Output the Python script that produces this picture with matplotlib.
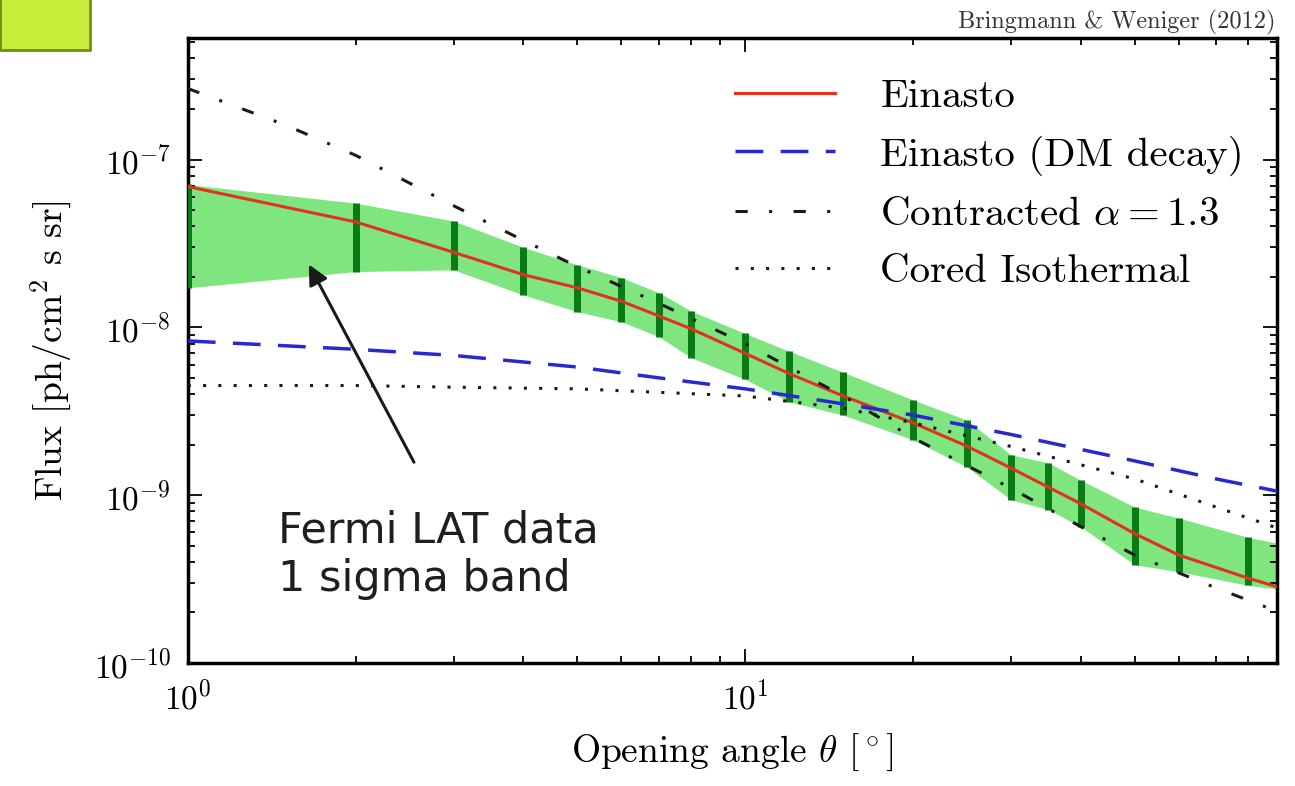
import matplotlib
matplotlib.use("Agg")
import matplotlib.pyplot as plt
from matplotlib.patches import Rectangle

plt.rcParams['font.family'] = 'cmr10'
plt.rcParams['mathtext.fontset'] = 'cm'
plt.rcParams['axes.formatter.use_mathtext'] = True

# Fermi LAT data, 1 sigma
data_x = [1, 2, 3, 4, 5, 6, 7, 8, 10, 12, 15, 20, 25, 30, 35, 40, 50, 60, 80]
data_hi = [7.1e-8, 5.5e-8, 4.3e-8, 3.0e-8, 2.36e-8, 1.98e-8, 1.61e-8, 1.25e-8, 9.2e-9,
           7.2e-9, 5.4e-9, 3.7e-9, 2.8e-9, 1.74e-9, 1.56e-9, 1.23e-9, 8.5e-10, 7.3e-10, 5.6e-10]
data_lo = [1.72e-8, 2.15e-8, 2.2e-8, 1.56e-8, 1.24e-8, 1.08e-8, 8.8e-9, 6.6e-9, 4.9e-9,
           3.6e-9, 3.0e-9, 2.14e-9, 1.47e-9, 9.4e-10, 8.2e-10, 6.5e-10, 3.85e-10, 3.5e-10, 2.9e-10]

# band continues to the right edge
band_x = data_x + [95]
band_hi = data_hi + [5.0e-10]
band_lo = data_lo + [2.7e-10]

# model curves
ein_x = [1, 2, 3, 4, 5, 6, 7, 8, 10, 12, 15, 20, 25, 30, 40, 50, 60, 80, 95]
ein_y = [6.9e-8, 4.25e-8, 2.8e-8, 2.06e-8, 1.72e-8, 1.43e-8, 1.17e-8, 9.8e-9, 7.0e-9,
         5.3e-9, 3.9e-9, 2.7e-9, 1.96e-9, 1.45e-9, 8.9e-10, 5.9e-10, 4.4e-10, 3.2e-10, 2.7e-10]

decay_x = [1, 2, 3, 5, 7, 10, 15, 20, 30, 50, 70, 95]
decay_y = [8.3e-9, 7.4e-9, 6.8e-9, 5.8e-9, 5.0e-9, 4.3e-9, 3.5e-9, 3.0e-9, 2.3e-9, 1.6e-9, 1.25e-9, 1.02e-9]

contr_x = [1, 1.5, 2, 3, 4, 5, 7, 10, 15, 20, 30, 40, 50, 70, 95]
contr_y = [2.65e-7, 1.6e-7, 1.06e-7, 5.3e-8, 3.3e-8, 2.3e-8, 1.39e-8, 8.0e-9, 3.9e-9, 2.2e-9,
           1.1e-9, 6.5e-10, 4.4e-10, 2.8e-10, 1.9e-10]

cored_x = [1, 2, 3, 5, 7, 10, 15, 20, 30, 50, 70, 95]
cored_y = [4.5e-9, 4.5e-9, 4.4e-9, 4.3e-9, 4.1e-9, 3.9e-9, 3.3e-9, 2.7e-9, 1.95e-9, 1.25e-9, 0.85e-9, 0.6e-9]

fig = plt.figure(figsize=(12.95, 7.86), dpi=100)
ax = fig.add_axes([0.145, 0.1565, 0.841, 0.7952])

ax.fill_between(band_x, band_lo, band_hi, color='#7fe57f', lw=0, zorder=1)
ax.vlines(data_x, data_lo, data_hi, color='#0a7a16', lw=5, zorder=3)

ax.plot(ein_x, ein_y, color='#e0321e', lw=2.2, label='Einasto', zorder=4)
ax.plot(decay_x, decay_y, color='#2828d2', lw=2.5, dashes=(8, 5), label='Einasto (DM decay)', zorder=4)
ax.plot(contr_x, contr_y, color='#1a1a1a', lw=2.2, dashes=(4, 7, 1, 7), label=r'Contracted $\alpha=$1.3', zorder=4)
ax.plot(cored_x, cored_y, color='#1a1a1a', lw=2.2, dashes=(1, 4), label='Cored Isothermal', zorder=4)

ax.set_xscale('log')
ax.set_yscale('log')
ax.set_xlim(1, 90)
ax.set_ylim(1e-10, 5.3e-7)

ax.tick_params(which='both', direction='in', top=True, right=True, labelsize=24, width=1.3)
ax.tick_params(which='major', length=10, pad=12)
ax.tick_params(which='minor', length=5)
for s in ax.spines.values():
    s.set_linewidth(2.5)

ax.set_xlabel(r'Opening angle $\theta$ [$^\circ$]', fontsize=27, labelpad=12)
ax.set_ylabel(r'Flux [ph/cm$^2$ s sr]', fontsize=27, labelpad=14)

leg = ax.legend(loc='upper right', bbox_to_anchor=(1.0, 0.988), frameon=False, fontsize=29.5,
                handlelength=2.45, handletextpad=1.1, labelspacing=0.5, borderaxespad=0.4)

ax.annotate('', xy=(1.64, 2.45e-8), xytext=(2.56, 1.52e-9),
            arrowprops=dict(arrowstyle='-|>', color='#1a1a1a', lw=2.2, mutation_scale=30), zorder=5)
ax.text(1.45, 8.2e-10, 'Fermi LAT data\n1 sigma band', family='DejaVu Sans', fontsize=31,
        va='top', ha='left', linespacing=1.2, color='#1e1e1e')

fig.text(0.985, 0.955, 'Bringmann & Weniger (2012)', fontsize=17.5, ha='right', va='bottom', color='#333333')

fig.patches.append(Rectangle((0.0, 0.936), 0.0695, 0.07, transform=fig.transFigure,
                             facecolor='#c8ee3c', edgecolor='#6f8f14', lw=2))

fig.savefig('out.png', dpi=100)
